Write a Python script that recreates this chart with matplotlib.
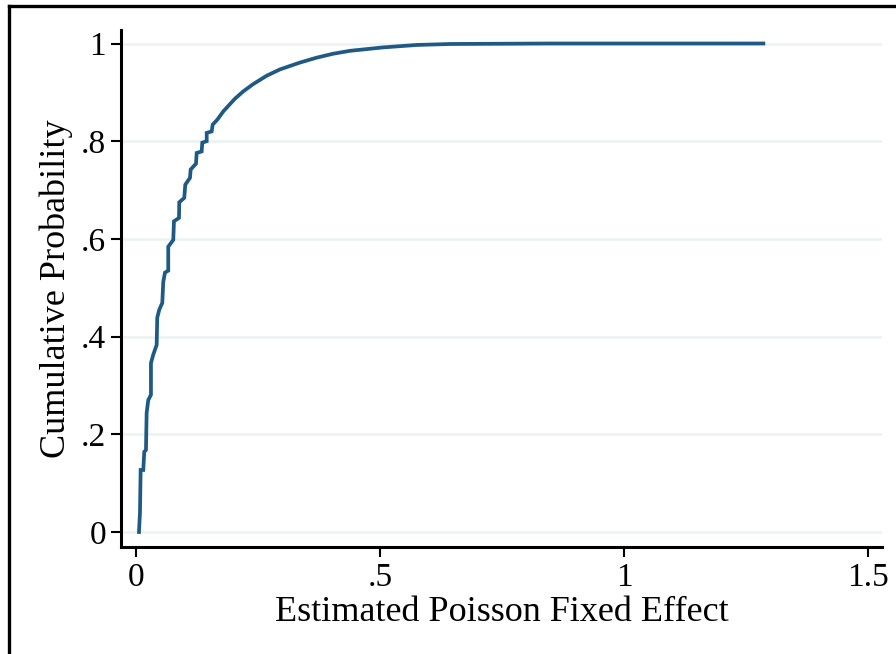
import matplotlib
matplotlib.use('Agg')
import matplotlib.pyplot as plt
from matplotlib.lines import Line2D

plt.rcParams['font.family'] = ['Liberation Serif', 'DejaVu Serif']

# points
fe_values = [0.0068, 0.0088, 0.0102, 0.0156, 0.0176, 0.0211, 0.0225, 0.0258, 0.0313,
             0.0313, 0.0360, 0.0430, 0.0442, 0.0483, 0.0545, 0.0565, 0.0600, 0.0667,
             0.0667, 0.0770, 0.0784, 0.0887, 0.0893, 0.0995, 0.1016, 0.1112, 0.1126,
             0.1235, 0.1249, 0.1351, 0.1364, 0.1454, 0.1454, 0.1556, 0.1577, 0.1671,
             0.1794, 0.1931, 0.2033, 0.2203, 0.2408, 0.2682, 0.2955, 0.3364, 0.3706,
             0.4040, 0.4388, 0.5063, 0.5753, 0.6435, 0.8483, 1.2850]
cum_prob = [0.000, 0.039, 0.127, 0.127, 0.164, 0.168, 0.244, 0.270, 0.281,
            0.346, 0.363, 0.383, 0.439, 0.455, 0.469, 0.512, 0.531, 0.535, 0.584,
            0.598, 0.636, 0.643, 0.675, 0.684, 0.711, 0.725, 0.742, 0.754, 0.776,
            0.779, 0.797, 0.800, 0.817, 0.820, 0.834, 0.844, 0.861, 0.876, 0.887,
            0.902, 0.917, 0.934, 0.947, 0.961, 0.971, 0.979, 0.985, 0.992, 0.997,
            0.999, 1.000, 1.000]

x_ticks = [0, 0.5, 1, 1.5]
x_labels = ['0', '.5', '1', '1.5']
y_ticks = [0, 0.2, 0.4, 0.6, 0.8, 1]
y_labels = ['0', '.2', '.4', '.6', '.8', '1']

fig = plt.figure(figsize=(8.96, 6.54), dpi=100)
ax = fig.add_axes([0.1356, 0.1636, 0.8488, 0.7905])

ax.plot(fe_values, cum_prob, color='#1f5a84', lw=2.7, solid_joinstyle='miter')

ax.set_xlim(-0.029, 1.528)
ax.set_ylim(-0.0307, 1.0276)
ax.set_xticks(x_ticks)
ax.set_xticklabels(x_labels)
ax.set_yticks(y_ticks)
ax.set_yticklabels(y_labels)
ax.tick_params(labelsize=24, length=7, width=1.5, color='black', pad=4)
ax.yaxis.grid(True, color='#eaf2f3', lw=1.8)
ax.set_axisbelow(True)

for s in ['top', 'right']:
    ax.spines[s].set_visible(False)
for s in ['left', 'bottom']:
    ax.spines[s].set_linewidth(2.2)

ax.set_xlabel('Estimated Poisson Fixed Effect', fontsize=26, labelpad=2)
ax.set_ylabel('Cumulative Probability', fontsize=26, labelpad=6)

# outer frame (only left and top edges are in view)
fig.add_artist(Line2D([9 / 896, 9 / 896], [0, 1 - 6 / 654], transform=fig.transFigure,
                      color='black', lw=2.4))
fig.add_artist(Line2D([9 / 896, 1], [1 - 6 / 654, 1 - 6 / 654], transform=fig.transFigure,
                      color='black', lw=2.4))

fig.savefig('out.png', dpi=100)
